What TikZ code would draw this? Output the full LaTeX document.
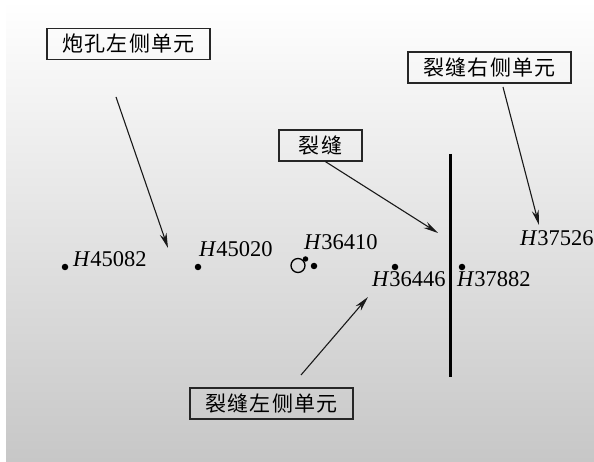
\documentclass[tikz,border=0pt]{standalone}
\usepackage{fontspec}
\setmainfont{Liberation Serif}
\newfontfamily\cjk[LetterSpace=5]{Noto Sans CJK SC}
\usetikzlibrary{arrows.meta}
\tikzset{
  labelbox/.style={draw=black!85, line width=1.2pt, fill=none, inner sep=0pt,
    minimum height=31pt, font=\cjk\fontsize{21}{21}\selectfont},
  pointer/.style={draw=black!90, line width=1.1pt, -{Stealth[length=15pt,width=7pt]}},
  elem/.style={fill=black, circle, inner sep=0pt, minimum size=6.5pt},
  elemlabel/.style={anchor=base west, inner sep=0pt, font=\fontsize{22.5}{22.5}\selectfont},
}
\begin{document}
\begin{tikzpicture}[x=1pt,y=-1pt]
\useasboundingbox (0,0) rectangle (594,462);
\shade[top color=white, bottom color=black!22] (6,0) rectangle (594,462);

% boxes
\node[labelbox, minimum width=163pt] (b1) at (128.5,44) {炮孔左侧单元};
\node[labelbox, minimum width=163pt] (b2) at (489.5,67.5) {裂缝右侧单元};
\node[labelbox, minimum width=83pt] (b3) at (320.5,145.5) {裂缝};
\node[labelbox, minimum width=163pt] (b4) at (271.5,403.5) {裂缝左侧单元};

% crack
\coordinate (ct) at (450,154);
\coordinate (cb) at (450,377);
\draw[line width=3pt] (ct) -- (cb);

% elements
\node[elem] (d1) at (65,267) {};
\node[elem] (d2) at (198,267) {};
\node[elem] (d3) at (314,266) {};
\node[elem] (d4) at (395,267) {};
\node[elem] (d5) at (462,267) {};
\node[draw, circle, line width=1.3pt, inner sep=0pt, minimum size=14pt] (hole) at (298,265.5) {};
\node[elem, minimum size=5.5pt] (d6) at (305.5,259) {};

\node[elemlabel] (l1) at (73,267) {\textit{H}45082};
\node[elemlabel] (l2) at (199,257) {\textit{H}45020};
\node[elemlabel] (l3) at (304,250) {\textit{H}36410};
\node[elemlabel] (l4) at (372,287) {\textit{H}36446};
\node[elemlabel] (l5) at (457,287) {\textit{H}37882};
\node[elemlabel] (l6) at (520,246) {\textit{H}37526};

% arrows
\coordinate (a1s) at (116,97);
\coordinate (a1e) at (168,248);
\coordinate (a2s) at (503,87);
\coordinate (a2e) at (539,225);
\coordinate (a3e) at (438,233);
\coordinate (a4s) at (301,375);
\coordinate (a4e) at (368,297);
\draw[pointer] (a1s) -- (a1e);
\draw[pointer] (a2s) -- (a2e);
\draw[pointer] (b3.south west) ++(47,0) coordinate (a3s) (a3s) -- (a3e);
\draw[pointer] (a4s) -- (a4e);
\end{tikzpicture}
\end{document}
